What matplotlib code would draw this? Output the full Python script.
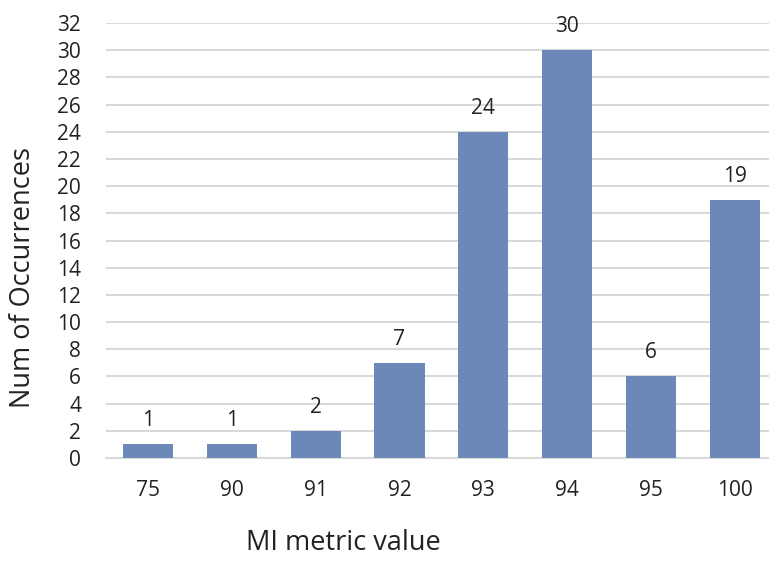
import matplotlib.pyplot as plt
import numpy as np

plt.rcParams['font.family'] = ['Open Sans', 'DejaVu Sans']

metric = ["75", "90", "91", "92", "93", "94", "95", "100"]
counts = [1, 1, 2, 7, 24, 30, 6, 19]

fig = plt.figure(figsize=(7.69, 5.61), dpi=100)
ax = fig.add_axes([0.138, 0.1836, 0.872, 0.7754])

x = np.arange(len(metric))
bars = ax.bar(x, counts, width=0.6, color='#6b88b8', zorder=3)

# value on top of each bar
for b, c in zip(bars, counts):
    ax.annotate(str(c), (b.get_x() + b.get_width() / 2, c),
                xytext=(0, 13), textcoords='offset points',
                ha='center', va='baseline', fontsize=15, color='#222222')

ax.set_xlim(-0.5, len(metric) - 0.5)
ax.set_ylim(0, 32)
ax.set_yticks(np.arange(0, 33, 2))
ax.set_xticks(x)
ax.set_xticklabels(metric)
ax.tick_params(axis='both', length=0, labelsize=15, colors='#222222')
ax.tick_params(axis='x', pad=16)
ax.tick_params(axis='y', pad=18)

ax.grid(axis='y', color='#d9d9d9', linewidth=1.5, zorder=0)
for s in ['top', 'right', 'left']:
    ax.spines[s].set_visible(False)
ax.spines['bottom'].set_color('#d9d9d9')
ax.spines['bottom'].set_linewidth(1.5)

fig.text(0.03, 0.505, "Num of Occurrences", rotation=90, ha='center', va='center',
         fontsize=19.5, color='#222222')
fig.text(0.447, 0.032, "MI metric value", ha='center', va='center',
         fontsize=19.5, color='#222222')

fig.savefig('out.png', dpi=100)
